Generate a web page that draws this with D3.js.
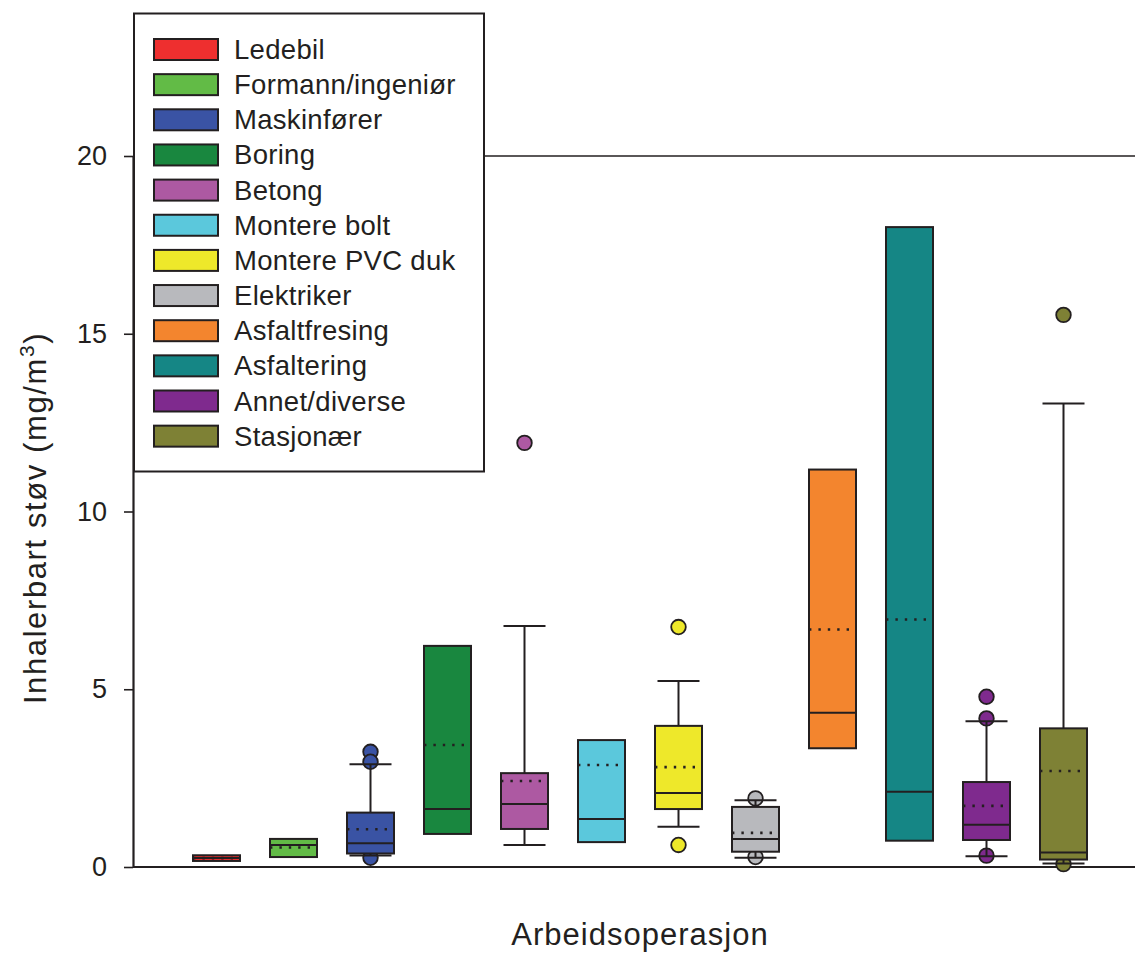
<!DOCTYPE html>
<html>
<head>
<meta charset="utf-8">
<script src="https://cdn.jsdelivr.net/npm/d3@7"></script>
<style>
  body { margin: 0; background: #fff; }
  svg { display: block; font-family: "Liberation Sans", Arial, sans-serif; }
</style>
</head>
<body>
<div class="chart"></div>
<script>
// values, one entry per work operation
const categories = [
  "Ledebil", "Formann/ingeniør", "Maskinfører", "Boring", "Betong",
  "Montere bolt", "Montere PVC duk", "Elektriker", "Asfaltfresing",
  "Asfaltering", "Annet/diverse", "Stasjonær",
];
const colors = [
  "#ee2f2f", "#62bb46", "#3a53a4", "#19873f", "#ad59a2", "#5bc8dc",
  "#eee82a", "#b8b9bd", "#f3852e", "#158685", "#7f2a8e", "#7e8135",
];
const q1 = [0.17, 0.28, 0.38, 0.93, 1.07, 0.70, 1.63, 0.43, 3.34, 0.74, 0.76, 0.21];
const medians = [0.25, 0.62, 0.67, 1.63, 1.77, 1.35, 2.08, 0.79, 4.34, 2.12, 1.19, 0.41];
const q3 = [0.33, 0.79, 1.53, 6.22, 2.64, 3.57, 3.97, 1.69, 11.18, 18.0, 2.39, 3.90];
const means = [0.25, 0.55, 1.06, 3.43, 2.42, 2.87, 2.81, 0.96, 6.68, 6.96, 1.72, 2.70];
const whiskerLow = [null, null, 0.32, null, 0.62, null, 1.13, 0.26, null, null, 0.30, 0.10];
const whiskerHigh = [null, null, 2.89, null, 6.78, null, 5.23, 1.88, null, null, 4.10, 13.04];
const outliers = [
  [], [], [3.24, 2.96, 0.26], [], [11.93], [], [6.75, 0.62],
  [1.93, 0.28], [], [], [4.79, 4.18, 0.32], [15.53, 0.08],
];
const yTicks = [0, 5, 10, 15, 20];

const WIDTH = 1135;
const HEIGHT = 954;
const LEFT = 133;
const TOP = 156;
const BOTTOM = 867;
const BOX_W = 47;
const CAP_W = 42;
const INK = "#231f20";
const LINE_W = 2;

const data = categories.map((c, i) => ({
  name: c,
  color: colors[i],
  q1: q1[i],
  median: medians[i],
  q3: q3[i],
  mean: means[i],
  lo: whiskerLow[i],
  hi: whiskerHigh[i],
  outliers: outliers[i],
}));

const svg = d3.select(".chart")
  .append("svg")
  .attr("width", WIDTH)
  .attr("height", HEIGHT);

const x = d3.scalePoint().domain(categories).range([216.5, 1063.5]);
const y = d3.scaleLinear().domain([0, 20]).range([BOTTOM, TOP]);

// frame: top line and bottom axis line
svg.append("line")
  .attr("x1", LEFT).attr("x2", WIDTH)
  .attr("y1", TOP).attr("y2", TOP)
  .attr("stroke", INK).attr("stroke-width", 1.6);
svg.append("line")
  .attr("x1", LEFT).attr("x2", WIDTH)
  .attr("y1", BOTTOM).attr("y2", BOTTOM)
  .attr("stroke", INK).attr("stroke-width", 2.2);

// y axis
const yAxis = svg.append("g")
  .attr("transform", `translate(${LEFT},0)`)
  .call(d3.axisLeft(y).tickValues(yTicks).tickSize(9).tickPadding(17).tickSizeOuter(0));
yAxis.select(".domain").attr("stroke", INK).attr("stroke-width", 2.2);
yAxis.selectAll(".tick line").attr("stroke", INK).attr("stroke-width", 1.6);
yAxis.selectAll(".tick text")
  .attr("fill", INK)
  .attr("font-size", 27)
  .attr("font-family", "Liberation Sans, Arial, sans-serif");

const groups = svg.append("g").attr("class", "boxes")
  .selectAll("g")
  .data(data)
  .join("g")
  .attr("transform", d => `translate(${x(d.name)},0)`);

// outliers sit under the whiskers
groups.selectAll("circle")
  .data(d => d.outliers.map(v => ({ v, color: d.color })))
  .join("circle")
  .attr("cx", 0)
  .attr("cy", d => y(d.v))
  .attr("r", 7.3)
  .attr("fill", d => d.color)
  .attr("stroke", INK)
  .attr("stroke-width", 1.8);

// whiskers and caps
const withWhisker = groups.filter(d => d.hi !== null);
withWhisker.append("line")
  .attr("y1", d => y(d.q3)).attr("y2", d => y(d.hi))
  .attr("stroke", INK).attr("stroke-width", LINE_W);
withWhisker.append("line")
  .attr("y1", d => y(d.q1)).attr("y2", d => y(d.lo))
  .attr("stroke", INK).attr("stroke-width", LINE_W);
withWhisker.append("line")
  .attr("x1", -CAP_W / 2).attr("x2", CAP_W / 2)
  .attr("y1", d => y(d.hi)).attr("y2", d => y(d.hi))
  .attr("stroke", INK).attr("stroke-width", LINE_W);
withWhisker.append("line")
  .attr("x1", -CAP_W / 2).attr("x2", CAP_W / 2)
  .attr("y1", d => y(d.lo)).attr("y2", d => y(d.lo))
  .attr("stroke", INK).attr("stroke-width", LINE_W);

// the box itself
groups.append("rect")
  .attr("x", -BOX_W / 2)
  .attr("width", BOX_W)
  .attr("y", d => y(d.q3))
  .attr("height", d => y(d.q1) - y(d.q3))
  .attr("fill", d => d.color)
  .attr("stroke", INK)
  .attr("stroke-width", LINE_W);

// median
groups.append("line")
  .attr("x1", -BOX_W / 2).attr("x2", BOX_W / 2)
  .attr("y1", d => y(d.median)).attr("y2", d => y(d.median))
  .attr("stroke", INK).attr("stroke-width", LINE_W);

// mean, dotted
groups.append("line")
  .attr("x1", -BOX_W / 2).attr("x2", BOX_W / 2)
  .attr("y1", d => y(d.mean)).attr("y2", d => y(d.mean))
  .attr("stroke", INK).attr("stroke-width", 2.6)
  .attr("stroke-dasharray", "2.4 7");

// legend
const legend = svg.append("g").attr("class", "legend");
legend.append("rect")
  .attr("x", LEFT + 1).attr("y", 13.5)
  .attr("width", 350).attr("height", 458)
  .attr("fill", "#fff")
  .attr("stroke", INK).attr("stroke-width", 2);

const rows = legend.selectAll(".row")
  .data(data)
  .join("g")
  .attr("class", "row")
  .attr("transform", (d, i) => `translate(154,${39 + i * 35.15})`);
rows.append("rect")
  .attr("width", 64).attr("height", 21)
  .attr("fill", d => d.color)
  .attr("stroke", INK).attr("stroke-width", 2);
rows.append("text")
  .attr("x", 80)
  .attr("y", 20)
  .attr("font-size", 27.5)
  .attr("letter-spacing", 0.3)
  .attr("fill", INK)
  .text(d => d.name);

// axis titles
svg.append("text")
  .attr("x", 640)
  .attr("y", 945)
  .attr("text-anchor", "middle")
  .attr("font-size", 31)
  .attr("letter-spacing", 1)
  .attr("fill", INK)
  .text("Arbeidsoperasjon");

const yTitle = svg.append("text")
  .attr("transform", "translate(46,518) rotate(-90)")
  .attr("text-anchor", "middle")
  .attr("font-size", 31)
  .attr("letter-spacing", 1.6)
  .attr("fill", INK);
yTitle.append("tspan").text("Inhalerbart støv (mg/m");
yTitle.append("tspan").attr("dy", -12).attr("font-size", 21).text("3");
yTitle.append("tspan").attr("dy", 12).text(")");
</script>
</body>
</html>
